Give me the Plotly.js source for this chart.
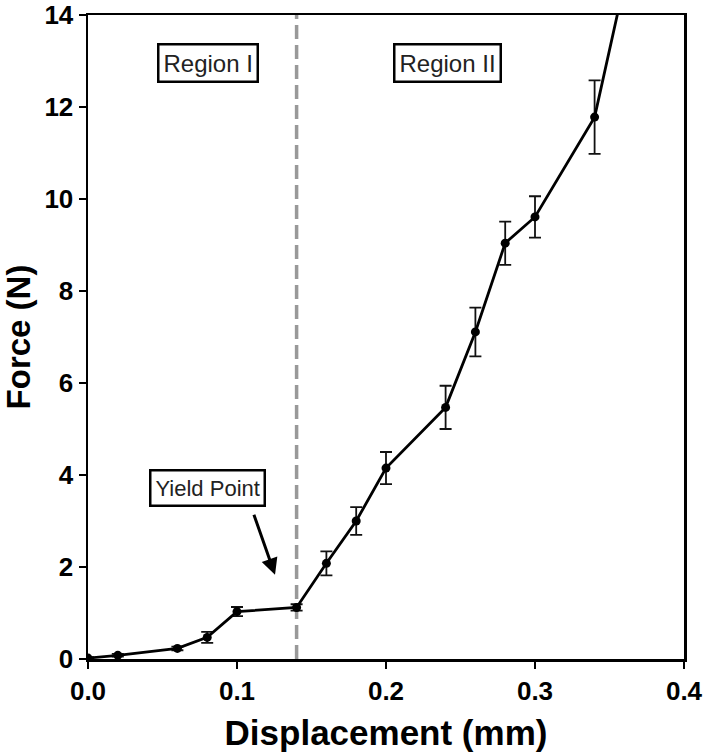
<!DOCTYPE html>
<html>
<head>
<meta charset="utf-8">
<script src="https://cdn.plot.ly/plotly-3.0.1.min.js"></script>
<style>
  body { margin: 0; background: #fff; }
  #chart { width: 709px; height: 756px; }
</style>
</head>
<body>
<div id="chart"></div>
<script>
const displacement = [0, 0.02, 0.06, 0.08, 0.1, 0.14, 0.16, 0.18, 0.2, 0.24, 0.26, 0.28, 0.3, 0.34, 0.36];
const force = [0.02, 0.08, 0.23, 0.47, 1.03, 1.12, 2.08, 3.0, 4.15, 5.47, 7.11, 9.04, 9.61, 11.78, 14.7];
const forceErr = [0.02, 0.03, 0.04, 0.12, 0.1, 0.07, 0.26, 0.3, 0.35, 0.47, 0.53, 0.47, 0.45, 0.8, 0];
const yieldX = 0.14;

const fontFamily = 'Liberation Sans, Arial, sans-serif';

const curve = {
    type: 'scatter',
    mode: 'lines+markers',
    x: displacement,
    y: force,
    error_y: { type: 'data', array: forceErr, visible: true, color: '#111', thickness: 1.8, width: 6 },
    line: { color: '#000', width: 2.8 },
    marker: { color: '#000', size: 9 },
    cliponaxis: true,
    showlegend: false
};

const boxLabel = (text, x, y, size) => ({
    x: x, y: y, xref: 'x', yref: 'y', text: text, showarrow: false,
    font: { family: fontFamily, size: size, color: '#222' },
    bordercolor: '#000', borderwidth: 2.5, borderpad: 4, bgcolor: '#fff'
});

const layout = {
    width: 709,
    height: 756,
    margin: { l: 88, r: 25, t: 15, b: 97 },
    paper_bgcolor: '#fff',
    plot_bgcolor: '#fff',
    font: { family: fontFamily, color: '#000' },
    xaxis: {
        range: [0, 0.4],
        tickvals: [0, 0.1, 0.2, 0.3, 0.4],
        ticktext: ['0.0', '0.1', '0.2', '0.3', '0.4'],
        ticks: 'outside', ticklen: 7, tickwidth: 2.5, tickcolor: '#000',
        showline: true, linewidth: 2.5, linecolor: '#000', mirror: true,
        showgrid: false, zeroline: false,
        tickfont: { family: fontFamily, size: 26, color: '#000', weight: 'bold' },
        title: { text: '<b>Displacement (mm)</b>', font: { family: fontFamily, size: 35, color: '#000' }, standoff: 16 }
    },
    yaxis: {
        range: [0, 14],
        tickvals: [0, 2, 4, 6, 8, 10, 12, 14],
        ticks: 'outside', ticklen: 7, tickwidth: 2.5, tickcolor: '#000',
        showline: true, linewidth: 2.5, linecolor: '#000', mirror: true,
        showgrid: false, zeroline: false,
        tickfont: { family: fontFamily, size: 26, color: '#000', weight: 'bold' },
        title: { text: '<b>Force (N)</b>', font: { family: fontFamily, size: 33, color: '#000' }, standoff: 4 }
    },
    shapes: [{
        type: 'line', xref: 'x', yref: 'paper', x0: yieldX, x1: yieldX, y0: 0, y1: 1,
        line: { color: '#999', width: 3.5, dash: '14px,6px' }, layer: 'below'
    }],
    annotations: [
        boxLabel('Region I', 0.0805, 12.96, 24),
        boxLabel('Region II', 0.241, 12.96, 24),
        boxLabel('Yield Point', 0.0805, 3.72, 22),
        {
            x: 0.1255, y: 1.83, ax: 0.111, ay: 3.17, xref: 'x', yref: 'y', axref: 'x', ayref: 'y',
            text: '', showarrow: true, arrowhead: 2, arrowsize: 1.1, arrowwidth: 3, arrowcolor: '#000'
        }
    ]
};

Plotly.newPlot('chart', [curve], layout, { staticPlot: true });
</script>
</body>
</html>
